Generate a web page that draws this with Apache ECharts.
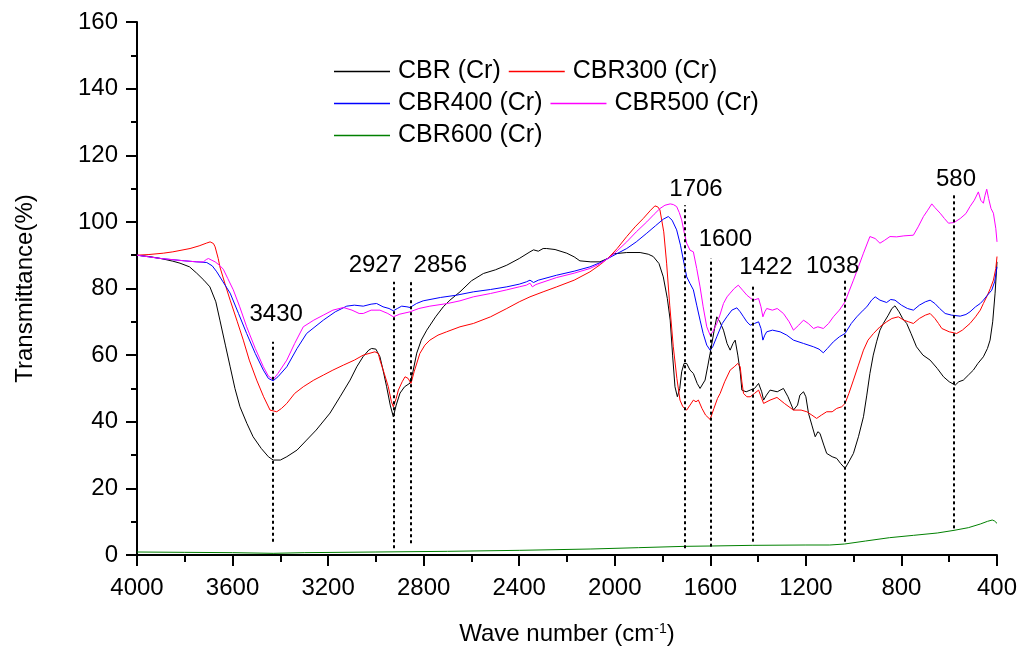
<!DOCTYPE html>
<html>
<head>
<meta charset="utf-8">
<script src="https://cdn.jsdelivr.net/npm/echarts@6/dist/echarts.min.js"></script>
<style>
  html, body { margin: 0; padding: 0; background: #fff; }
  #chart { width: 1021px; height: 656px; }
</style>
</head>
<body>
<div id="chart"></div>
<script>
// FTIR spectra: [wave number (cm-1), transmittance (%)]
const cbr = [[4000,90],[3950,89.6],[3900,89],[3850,88.2],[3820,87.6],[3780,86.5],[3750,84.6],[3720,82.5],[3695,80.5],[3670,76],[3653,70.5],[3630,63],[3610,56.5],[3590,50],[3569,44.5],[3540,39.5],[3514,35.5],[3480,32],[3450,29.5],[3430,28.5],[3400,28.5],[3373,29.5],[3330,31.5],[3290,34.5],[3250,37.5],[3192,42.6],[3150,47.5],[3108,52.5],[3080,56.5],[3054,59.5],[3030,61.5],[3018,62],[3000,61.8],[2983,59.5],[2970,55.5],[2955,50.5],[2940,45],[2927,41.5],[2915,45],[2899,48.6],[2880,50.5],[2857,51.6],[2845,55],[2829,60.6],[2810,64.5],[2787,67.5],[2750,71.5],[2718,74.5],[2690,76.5],[2648,79],[2600,82.3],[2550,84.5],[2500,85.6],[2452,87],[2400,89],[2355,91],[2340,91.6],[2320,91.2],[2300,92],[2285,92],[2250,91.7],[2201,90.6],[2170,89.5],[2146,88.3],[2100,88],[2062,88],[2030,89],[2006,90.4],[1950,90.8],[1894,90.8],[1860,90.3],[1839,89.6],[1815,87.5],[1797,83.5],[1780,77],[1768,70.5],[1758,60],[1748,50.5],[1738,47.5],[1728,50],[1720,55],[1710,57.5],[1699,57.5],[1685,55.5],[1671,54.5],[1655,51.5],[1643,50],[1636,49.7],[1622,52.5],[1610,57],[1601,60.5],[1585,67],[1573,71.5],[1560,70],[1545,67.5],[1530,63.5],[1517,61.5],[1505,63.5],[1496,64.5],[1485,60],[1475,55],[1468,49.5],[1450,49],[1433,49.5],[1415,50],[1398,51.5],[1385,49],[1377,46.5],[1365,48],[1350,49.5],[1320,49],[1294,50],[1275,47.5],[1252,43.5],[1235,45],[1225,48],[1210,49],[1200,47.5],[1189,42.5],[1175,39],[1161,35.5],[1150,37],[1141,36.5],[1125,33],[1113,30.5],[1090,29.5],[1071,29],[1055,27.5],[1036,26],[1020,28],[1001,30.5],[980,35.5],[959,41.5],[945,48],[932,54.5],[918,60],[904,64],[890,67.5],[876,69.5],[855,72],[840,74],[827,74.8],[810,73],[795,71],[778,69.5],[760,66.5],[737,62.5],[710,60],[680,58.5],[650,56],[624,53.5],[600,52],[575,51],[560,52],[541,52.5],[520,54],[499,55.5],[480,57.5],[457,59.5],[440,62],[429,64.5],[418,70],[408,78.6],[400,88]];

const cbr300 = [[4000,90],[3950,90.2],[3890,90.6],[3850,91],[3778,92],[3740,92.8],[3710,93.6],[3694,94],[3680,93.5],[3673,92.5],[3660,89],[3653,86.5],[3630,81],[3610,76.5],[3580,70],[3555,64.5],[3530,58.5],[3499,52.5],[3470,47.5],[3443,43.5],[3415,43],[3395,44],[3373,45.5],[3340,48.5],[3304,50.5],[3260,52.5],[3220,54],[3180,55.5],[3136,57],[3090,58.5],[3053,60],[3004,61],[2990,60.5],[2983,58.5],[2965,54.5],[2948,50.5],[2935,46],[2927,44.5],[2915,47],[2906,49.5],[2890,52],[2878,53.5],[2865,53],[2853,51.5],[2840,55],[2816,60.5],[2795,63],[2774,64.5],[2740,66],[2704,67],[2648,68.5],[2592,69.5],[2520,71.5],[2452,74],[2400,76],[2355,77.5],[2300,79],[2243,80.5],[2170,82.5],[2104,85],[2060,87.2],[2021,89.6],[1990,92],[1950,95.6],[1915,98.5],[1881,101],[1850,103.5],[1832,104.8],[1820,104.5],[1811,103.6],[1795,97],[1783,87.6],[1770,75],[1755,62.5],[1740,53],[1727,46.5],[1715,44.5],[1699,43.5],[1685,45],[1671,46.5],[1660,46],[1650,46.5],[1635,44],[1620,42],[1601,40.7],[1585,44],[1570,47],[1559,48.5],[1540,52],[1517,55.5],[1500,56.5],[1485,57.5],[1475,56.5],[1468,52],[1461,48.5],[1447,47.5],[1433,47.5],[1415,48.5],[1398,49.5],[1385,47],[1377,45.5],[1350,46.5],[1321,47.3],[1290,45.5],[1252,43.5],[1220,43.5],[1196,43],[1175,42],[1155,41],[1135,42],[1113,43],[1090,43],[1071,44],[1050,44.5],[1036,45.5],[1020,48.5],[1001,52.5],[980,57],[959,61.5],[940,64.5],[917,66.5],[890,68.5],[862,70],[840,71],[813,71.5],[790,70.5],[770,70],[750,69.5],[725,71],[700,72],[680,72.5],[660,71],[645,69.5],[631,68],[600,67],[569,66.5],[545,67.5],[513,69.5],[490,71.5],[470,73.5],[457,75.5],[440,78],[428,80],[415,82.5],[405,86],[400,89.6]];

const cbr400 = [[4000,90],[3900,89],[3800,88.3],[3750,88],[3708,87.8],[3685,86.8],[3666,85],[3640,82],[3610,78.6],[3575,72.5],[3541,66.5],[3505,60.5],[3471,55.5],[3450,53],[3430,52.3],[3410,53.5],[3373,56.5],[3330,62],[3290,66.5],[3255,68.5],[3220,70.5],[3170,73],[3122,74.7],[3090,75],[3053,74.7],[3020,75.3],[2997,75.5],[2970,74.5],[2945,74],[2927,73.3],[2910,74],[2892,74.7],[2870,74.5],[2857,74.3],[2830,75.5],[2802,76.3],[2730,77.3],[2662,78],[2592,79],[2520,79.7],[2452,80.5],[2400,81.3],[2370,82],[2355,82.5],[2340,81.8],[2320,82.5],[2243,84],[2170,85.2],[2104,86.5],[2060,87.8],[2021,89.3],[1990,90.5],[1950,92],[1910,94],[1866,96.6],[1830,98.8],[1797,100.8],[1776,101.6],[1760,100.5],[1741,97.6],[1725,93],[1713,88.6],[1699,83.5],[1685,81.5],[1671,79.6],[1657,75],[1643,70.5],[1630,66.5],[1615,63],[1601,61.5],[1590,62.5],[1573,65.5],[1550,69.5],[1531,71.5],[1510,73.5],[1489,74.2],[1475,73],[1461,71.5],[1447,70],[1433,69],[1415,69.5],[1398,70],[1388,68],[1380,64.5],[1372,66],[1364,67],[1340,67.5],[1308,67],[1280,66],[1252,64.5],[1210,63.5],[1168,62.5],[1145,61.8],[1127,60.7],[1110,62],[1085,64],[1060,65.5],[1036,66.5],[1010,69.5],[987,71.5],[960,73.5],[945,74.5],[925,76.5],[910,77.5],[890,76.5],[862,75.8],[845,76.7],[827,76.5],[800,75],[775,74],[750,73.5],[725,75],[700,76],[680,76.5],[660,75.5],[640,74],[617,72.5],[590,72],[554,71.7],[530,72.2],[513,73],[490,74.5],[470,75.5],[457,76.5],[440,78],[422,79.5],[410,82],[400,86.5]];

const cbr500 = [[4000,90],[3900,89],[3800,88.3],[3750,88],[3722,88],[3710,88.7],[3701,89],[3690,88.6],[3673,88],[3655,87],[3639,85.8],[3620,83],[3597,79.6],[3570,74.5],[3541,68.5],[3505,62],[3471,56.5],[3450,53.7],[3430,52.7],[3410,54.5],[3373,58.5],[3340,63.5],[3304,68.5],[3260,70.5],[3220,72],[3180,73.5],[3136,74.3],[3100,73.5],[3070,72.5],[3053,72.5],[3020,73.5],[2983,73.5],[2950,72.5],[2927,71.5],[2900,72.3],[2857,73],[2820,74],[2774,74.7],[2700,75.5],[2648,76.3],[2592,77.5],[2520,78.5],[2452,79.6],[2400,80.5],[2370,81],[2355,81.6],[2345,80.5],[2330,81.2],[2243,83.3],[2170,84.6],[2104,86],[2060,87.5],[2021,89.4],[1990,91.3],[1950,94],[1910,97],[1866,100],[1835,102.3],[1811,104],[1790,105],[1768,105.4],[1755,105.2],[1741,104.6],[1730,102.8],[1720,100.6],[1710,97],[1699,93.6],[1685,91.5],[1671,91],[1657,86],[1643,80.5],[1630,74.5],[1615,68.5],[1601,66],[1590,67],[1573,69.5],[1560,72],[1545,75.5],[1530,77.5],[1517,78.6],[1500,80],[1483,81],[1465,79.5],[1447,78],[1430,77],[1419,76.5],[1398,77],[1388,74.5],[1380,71.5],[1372,73],[1364,74],[1340,73.5],[1320,74],[1294,72.5],[1270,70],[1252,67.5],[1230,69],[1210,70.5],[1190,69.5],[1168,68],[1150,68.5],[1127,68],[1105,69.5],[1085,71.5],[1060,73.5],[1036,76],[1020,79],[1001,82.5],[980,86.5],[959,90.6],[932,95.6],[910,95],[890,93.6],[870,94.5],[848,95.6],[820,95.5],[790,95.8],[750,96],[730,98.5],[708,101.6],[690,103.5],[673,105.4],[660,104.3],[638,102.6],[620,101],[603,99.6],[580,99.8],[554,101],[530,102.5],[513,104.6],[495,106.5],[478,109],[468,106.5],[457,105.6],[450,108],[443,109.8],[435,107],[425,104],[415,102.6],[405,98],[400,94]];

const cbr600 = [[4000,0.9],[3800,0.8],[3600,0.7],[3430,0.5],[3300,0.7],[3000,0.9],[2700,1.1],[2400,1.4],[2100,1.8],[1900,2.2],[1706,2.6],[1600,2.7],[1422,2.9],[1200,3],[1100,3],[1038,3.3],[950,4.2],[850,5.2],[750,5.9],[650,6.6],[580,7.4],[520,8.2],[470,9.3],[440,10.1],[420,10.5],[410,10.2],[400,9.5]];

// Marked band positions and the extent of their guide lines
const peakWn     = [3430, 2927, 2856, 1706, 1600, 1422, 1038, 580];
const peakTop    = [64, 82, 82, 105, 89, 81, 83, 108.7];
const peakBottom = [4, 2, 3.5, 2, 2.5, 4, 4, 8];

const xTicks = [400, 4000, 400]; // min, max, step
const yTicks = [0, 160, 20];

const seriesNames = ['CBR (Cr)', 'CBR300 (Cr)', 'CBR400 (Cr)', 'CBR500 (Cr)', 'CBR600 (Cr)'];
const seriesData = [cbr, cbr300, cbr400, cbr500, cbr600];
const seriesColors = ['#000000', '#ff0000', '#0000ff', '#ff00ff', '#008000'];

const FONT = "'Liberation Sans', Arial, sans-serif";

// label placement around the top of each guide line (px)
const labelOffsets = [[3,-27],[-18,-16],[30,-16],[11,-16],[15,-19],[13,-18],[-12,-12],[2,-14]];

const lineSeries = seriesNames.map((name, i) => ({
  name: name,
  type: 'line',
  data: seriesData[i],
  symbol: 'none',
  smooth: false,
  lineStyle: { color: seriesColors[i], width: 1 },
  itemStyle: { color: seriesColors[i] },
  z: 3
}));

const peakLabel = {
  show: true,
  position: 'inside',
  formatter: p => p.name,
  color: '#000000',
  opacity: 1,
  fontFamily: FONT,
  fontSize: 24
};

const peakSeries = {
  name: 'peaks',
  type: 'scatter',
  symbolSize: 0,
  silent: true,
  itemStyle: { color: '#000000', opacity: 1 },
  data: peakWn.map((w, i) => ({
    value: [w, peakTop[i]],
    name: String(w),
    label: Object.assign({}, peakLabel, { offset: labelOffsets[i] })
  })),
  label: peakLabel,
  markLine: {
    silent: true,
    symbol: 'none',
    animation: false,
    label: { show: false },
    lineStyle: { color: '#000', width: 2, type: [3, 3] },
    data: peakWn.map((w, i) => [
      { coord: [w, peakBottom[i]] },
      { coord: [w, peakTop[i]] }
    ])
  },
  z: 4
};

const legendBase = {
  orient: 'horizontal',
  left: 334,
  padding: 0,
  icon: 'rect',
  itemWidth: 56,
  itemHeight: 1.5,
  itemGap: 8,
  selectedMode: false,
  textStyle: { color: '#000', fontFamily: FONT, fontSize: 25, padding: [0, 0, 0, 3] }
};

const option = {
  animation: false,
  backgroundColor: '#ffffff',
  grid: { left: 137, right: 24, top: 22, bottom: 101 },
  legend: [
    Object.assign({}, legendBase, { top: 59, data: [seriesNames[0], seriesNames[1]] }),
    Object.assign({}, legendBase, { top: 91, data: [seriesNames[2], seriesNames[3]] }),
    Object.assign({}, legendBase, { top: 123, data: [seriesNames[4]] })
  ],
  xAxis: {
    type: 'value',
    inverse: true,
    min: xTicks[0],
    max: xTicks[1],
    interval: xTicks[2],
    name: 'Wave number (cm{sup|-1})',
    nameLocation: 'middle',
    nameGap: 67,
    nameTextStyle: {
      color: '#000', fontFamily: FONT, fontSize: 24,
      rich: { sup: { fontSize: 14, fontFamily: FONT, color: '#000', verticalAlign: 'top' } }
    },
    axisLine: { onZero: false, lineStyle: { color: '#000', width: 2 } },
    axisTick: { inside: false, length: 11, lineStyle: { color: '#000', width: 2 } },
    minorTick: { show: true, splitNumber: 2, length: 7, lineStyle: { color: '#000', width: 2 } },
    splitLine: { show: false },
    axisLabel: { color: '#000', fontFamily: FONT, fontSize: 24, margin: 21, formatter: v => String(v) }
  },
  yAxis: {
    type: 'value',
    min: yTicks[0],
    max: yTicks[1],
    interval: yTicks[2],
    name: 'Transmittance(%)',
    nameLocation: 'middle',
    nameGap: 100,
    nameTextStyle: { color: '#000', fontFamily: FONT, fontSize: 24 },
    axisLine: { show: true, lineStyle: { color: '#000', width: 2 } },
    axisTick: { show: true, inside: false, length: 11, lineStyle: { color: '#000', width: 2 } },
    minorTick: { show: true, splitNumber: 2, length: 6, lineStyle: { color: '#000', width: 2 } },
    splitLine: { show: false },
    axisLabel: { color: '#000', fontFamily: FONT, fontSize: 24, margin: 19, formatter: v => String(v) }
  },
  series: lineSeries.concat([peakSeries])
};

const chart = echarts.init(document.getElementById('chart'), null, { renderer: 'canvas' });
chart.setOption(option);
</script>
</body>
</html>
